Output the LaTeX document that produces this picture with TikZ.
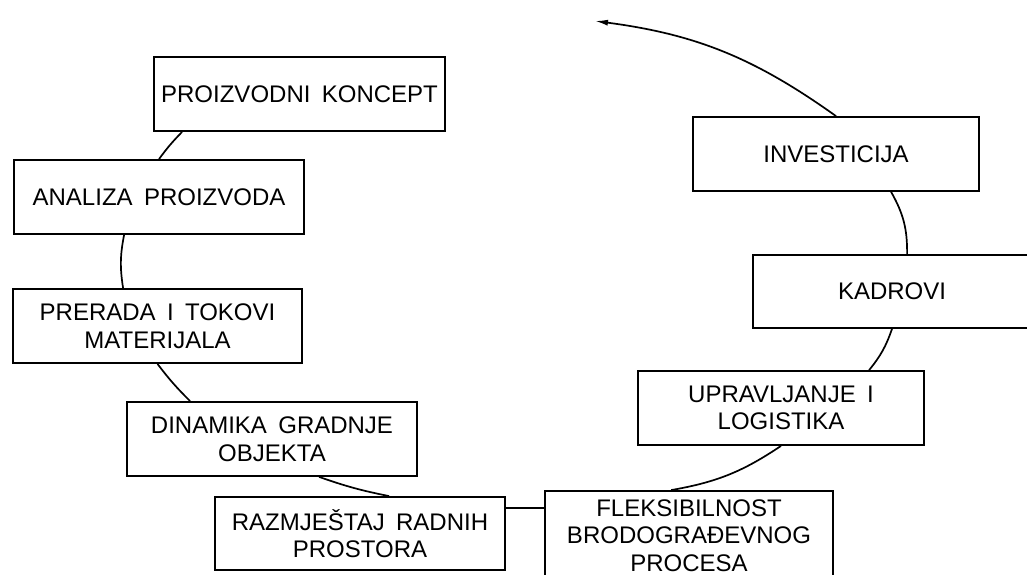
\documentclass[tikz,border=0pt]{standalone}
\usepackage{fontspec}
\setmainfont{Liberation Sans}[WordSpace=1.7]
\usetikzlibrary{calc,arrows.meta}
\begin{document}
\begin{tikzpicture}[x=1pt,y=1pt,
  box/.style={draw, line width=1.8pt, minimum width=290pt, minimum height=74pt,
    inner sep=0pt, align=center, font=\fontsize{24}{27.5}\selectfont},
  link/.style={line width=1.7pt}]
\path[use as bounding box, clip] (0,0) rectangle (1027,575);
\fill[white] (0,0) rectangle (1027,575);
\node[box, minimum width=291pt] (pk) at (299.5,481) {PROIZVODNI KONCEPT};
\node[box] (ap) at (159,378) {ANALIZA PROIZVODA};
\node[box, minimum width=289pt] (ptm) at (157.5,249) {PRERADA I TOKOVI\\MATERIJALA};
\node[box] (dgo) at (272,136) {DINAMIKA GRADNJE\\OBJEKTA};
\node[box, minimum height=73pt] (rrp) at (360,41.5) {RAZMJEŠTAJ RADNIH\\PROSTORA};
\node[box, minimum width=288pt, minimum height=89pt] (fbp) at (689,39.5) {FLEKSIBILNOST\\BRODOGRAĐEVNOG\\PROCESA};
\node[box, minimum width=286pt] (ul) at (781,167) {UPRAVLJANJE I\\LOGISTIKA};
\node[box, minimum width=278pt, minimum height=73pt] (kad) at (892,283.5) {KADROVI};
\node[box, minimum width=286pt] (inv) at (836,421) {INVESTICIJA};
\coordinate (tip) at (595,554);
\draw[link] ($(pk.south west)+(29,0)$) to[bend right=4] (ap.north);
\draw[link] ($(ap.south west)+(111,0)$) to[bend right=10] ($(ptm.north west)+(111,0)$);
\draw[link] (ptm.south) to[bend right=4] ($(dgo.north west)+(64,0)$);
\draw[link] ($(dgo.south west)+(193,0)$) to[bend right=4] ($(rrp.north west)+(175,0)$);
\draw[link] ($(rrp.north east)+(0,-12)$) -- ($(fbp.north west)+(0,-18)$);
\draw[link] ($(fbp.north west)+(127,0)$) to[bend right=12] (ul.south);
\draw[link] ($(ul.north west)+(232,0)$) to[bend right=10] (kad.south);
\draw[link] ($(kad.north west)+(155,0)$) to[bend right=15] ($(inv.south west)+(199,0)$);
\draw[link, -{Latex[length=13pt,width=6pt]}] (inv.north) to[bend right=14] (tip);
\end{tikzpicture}
\end{document}
